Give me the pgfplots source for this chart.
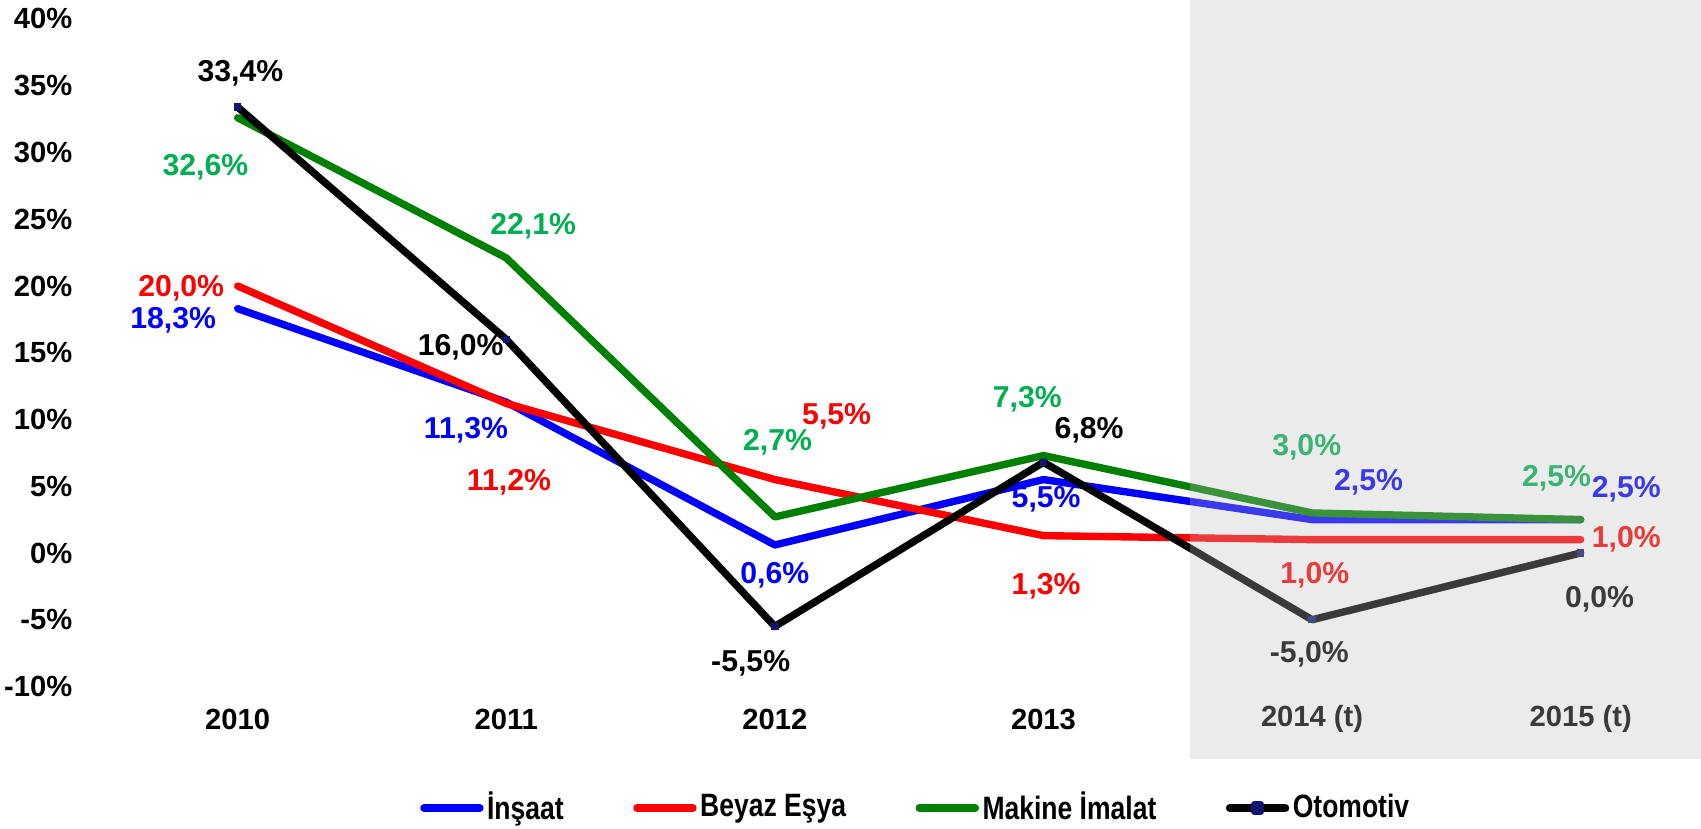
\documentclass[border=0pt]{standalone}
\usepackage{fontspec}
\setmainfont{Liberation Sans}
\newfontfamily\narrowfont[FakeStretch=0.82]{Liberation Sans}
\usepackage{pgfplots}
\pgfplotsset{compat=1.18}

\definecolor{cblue}{RGB}{0,0,255}
\definecolor{cred}{RGB}{255,0,0}
\definecolor{cgreen}{RGB}{0,128,0}
\definecolor{lgreen}{RGB}{0,176,80}
\definecolor{cnavy}{RGB}{20,20,110}
\definecolor{overlaygray}{RGB}{190,190,190}

\newcommand{\lab}[4]{\node[text=#1, font=\fontsize{8.6}{10}\selectfont\bfseries, inner sep=0pt] at (axis cs:#2,#3) {#4};}

\begin{document}
\begin{tikzpicture}
\begin{axis}[
    name=ax,
    scale only axis,
    width=16.21cm, height=7.59cm,
    xmin=-0.587, xmax=5.448,
    ymin=-15.43, ymax=41.42,
    axis line style={draw=none},
    tick style={draw=none},
    xtick={0,1,2,3,4,5},
    xticklabels={2010,2011,2012,2013,2014 (t),2015 (t)},
    ytick={-10,-5,0,5,10,15,20,25,30,35,40},
    yticklabels={-10\%,-5\%,0\%,5\%,10\%,15\%,20\%,25\%,30\%,35\%,40\%},
    ticklabel style={font=\fontsize{8.3}{10}\selectfont\bfseries},
    xticklabel style={anchor=center, yshift=0.4cm},
    yticklabel style={anchor=east, inner sep=0pt, xshift=-2pt},
    clip=false,
    legend columns=4,
    legend style={at={(0.516,0)}, anchor=center, yshift=-0.49cm, draw=none, fill=none,
        font=\fontsize{9.2}{10}\selectfont\narrowfont\bfseries,
        nodes={inner sep=1pt},
        /tikz/every even column/.append style={column sep=0.66cm}},
    legend image code/.code={\draw[line width=2.1pt, line cap=round, #1] (0cm,0cm) -- (0.56cm,0cm);},
    every axis plot/.append style={line width=2.1pt, line join=round, line cap=round},
]
\addplot[cblue, mark=none] coordinates {(0,18.3) (1,11.3) (2,0.6) (3,5.5) (4,2.5) (5,2.5)};
\addlegendentry{İnşaat}
\addplot[cred, mark=none] coordinates {(0,20.0) (1,11.2) (2,5.5) (3,1.3) (4,1.0) (5,1.0)};
\addlegendentry{Beyaz Eşya}
\addplot[cgreen, mark=none] coordinates {(0,32.6) (1,22.1) (2,2.7) (3,7.3) (4,3.0) (5,2.5)};
\addlegendentry{Makine İmalat}
\addplot[black, mark=square*, mark size=0.9pt, mark options={cnavy, line width=0pt},
    legend image code/.code={
        \draw[black, line width=2.1pt, line cap=round] (0cm,0cm) -- (0.56cm,0cm);
        \fill[cnavy] (0.25cm,-1.05pt) rectangle (0.31cm,1.05pt);}]
    coordinates {(0,33.4) (1,16.0) (2,-5.5) (3,6.8) (4,-5.0) (5,0.0)};
\addlegendentry{Otomotiv}

% Otomotiv
\lab{black}{0.01}{35.9}{33,4\%}
\lab{black}{0.83}{15.4}{16,0\%}
\lab{black}{1.91}{-8.3}{-5,5\%}
\lab{black}{3.17}{9.2}{6,8\%}
\lab{black}{3.99}{-7.6}{-5,0\%}
\lab{black}{5.07}{-3.5}{0,0\%}
% Makine Imalat
\lab{lgreen}{-0.12}{28.9}{32,6\%}
\lab{lgreen}{1.10}{24.5}{22,1\%}
\lab{lgreen}{2.01}{8.3}{2,7\%}
\lab{lgreen}{2.94}{11.5}{7,3\%}
\lab{lgreen}{3.98}{7.9}{3,0\%}
\lab{lgreen}{4.91}{5.6}{2,5\%}
% Beyaz Esya
\lab{cred}{-0.21}{19.8}{20,0\%}
\lab{cred}{1.01}{5.3}{11,2\%}
\lab{cred}{2.23}{10.2}{5,5\%}
\lab{cred}{3.01}{-2.5}{1,3\%}
\lab{cred}{4.01}{-1.7}{1,0\%}
\lab{cred}{5.17}{1.0}{1,0\%}
% Insaat
\lab{cblue}{-0.24}{17.4}{18,3\%}
\lab{cblue}{0.85}{9.2}{11,3\%}
\lab{cblue}{2.00}{-1.7}{0,6\%}
\lab{cblue}{3.01}{4.0}{5,5\%}
\lab{cblue}{4.21}{5.3}{2,5\%}
\lab{cblue}{5.17}{4.8}{2,5\%}

\coordinate (g1) at (axis cs:3.546,-15.43);
\coordinate (g2) at (axis cs:5.448,41.42);
\end{axis}
\fill[overlaygray, opacity=0.31] (g1) rectangle (g2);
\pgfresetboundingbox
\path[use as bounding box] (ax.south west) ++(-0.8cm,-0.7cm) rectangle (ax.north east);
\end{tikzpicture}
\end{document}
